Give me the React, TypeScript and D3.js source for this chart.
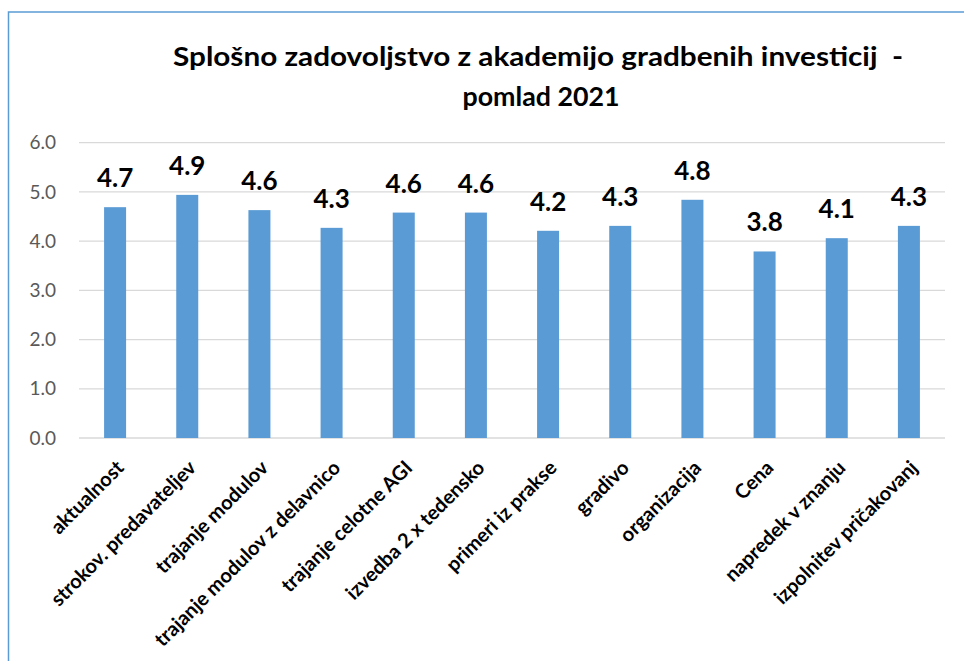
import React from "react";
import * as d3 from "d3";

const categories = [
  "aktualnost",
  "strokov. predavateljev",
  "trajanje modulov",
  "trajanje modulov z delavnico",
  "trajanje celotne AGI",
  "izvedba 2 x tedensko",
  "primeri iz prakse",
  "gradivo",
  "organizacija",
  "Cena",
  "napredek v znanju",
  "izpolnitev pričakovanj",
];
const values = [4.69, 4.94, 4.63, 4.27, 4.58, 4.58, 4.21, 4.31, 4.84, 3.79, 4.06, 4.31];
const yTicks = [0, 1, 2, 3, 4, 5, 6];
const titleLines = ["Splošno zadovoljstvo z akademijo gradbenih investicij  -", "pomlad 2021"];

const W = 964;
const H = 661;
const FONT = "Lato, 'Open Sans', sans-serif";

export default function App() {
  const x = d3
    .scaleBand<string>()
    .domain(categories)
    .range([79, 945])
    .paddingInner(0.695)
    .paddingOuter(0.3475);
  const y = d3.scaleLinear().domain([0, 6]).range([438, 142.7]);

  return (
    <svg
      width={W}
      height={H}
      style={{ position: "absolute", left: 0, top: 0, background: "#fff" }}
      fontFamily={FONT}
    >
      <rect x={0} y={0} width={W} height={H} fill="#fff" />
      {/* chart frame */}
      <path d={`M8.5,${H + 2} V12 H${W + 2}`} fill="none" stroke="#5B9BD5" strokeWidth={1.5} />

      {/* title */}
      {titleLines.map((t, i) => (
        <text
          key={i}
          x={i === 0 ? 538 : 541}
          y={66 + i * 40}
          textAnchor="middle"
          fontSize={26}
          fontWeight="bold"
          fill="#000"
          style={{ whiteSpace: "pre" }}
          textLength={i === 0 ? 730 : 157}
          lengthAdjust="spacingAndGlyphs"
        >
          {t}
        </text>
      ))}

      {/* gridlines */}
      {yTicks.map((t) => (
        <line
          key={t}
          x1={79}
          x2={945}
          y1={y(t)}
          y2={y(t)}
          stroke="#D9D9D9"
          strokeWidth={1.3}
        />
      ))}
      {/* y tick labels */}
      {yTicks.map((t) => (
        <text
          key={"l" + t}
          x={56}
          y={y(t)}
          dy="0.35em"
          textAnchor="end"
          fontSize={19}
          fill="#595959"
        >
          {t.toFixed(1)}
        </text>
      ))}

      {/* bars */}
      {categories.map((c, i) => (
        <rect
          key={c}
          x={x(c)!}
          y={y(values[i])}
          width={x.bandwidth()}
          height={y(0) - y(values[i])}
          fill="#5B9BD5"
        />
      ))}

      {/* value labels */}
      {categories.map((c, i) => (
        <text
          key={"v" + c}
          x={x(c)! + x.bandwidth() / 2}
          y={y(values[i]) - 20}
          textAnchor="middle"
          fontSize={26}
          fontWeight="bold"
          fill="#000"
        >
          {values[i].toFixed(1)}
        </text>
      ))}

      {/* category labels */}
      {categories.map((c) => {
        const cx = x(c)! + x.bandwidth() / 2;
        return (
          <text
            key={"c" + c}
            transform={`translate(${cx},${459}) rotate(-45)`}
            textAnchor="end"
            dy="0.71em"
            fontSize={20}
            fontWeight="bold"
            fill="#000"
          >
            {c}
          </text>
        );
      })}
    </svg>
  );
}
